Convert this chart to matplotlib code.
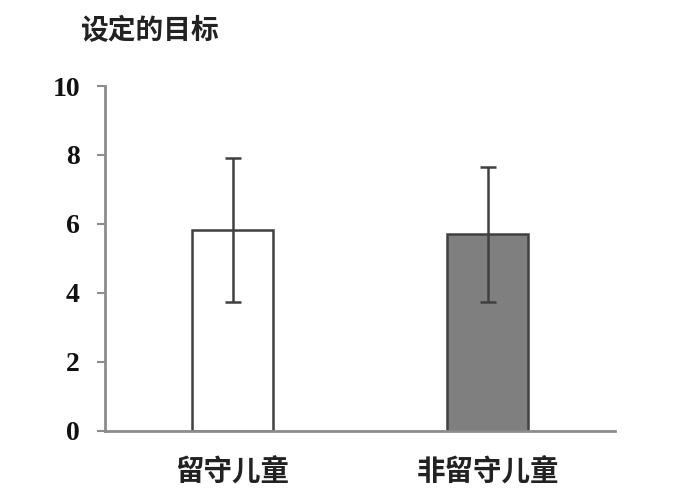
import matplotlib
matplotlib.use("Agg")
import matplotlib.pyplot as plt

categories = ["留守儿童", "非留守儿童"]
means = [5.82, 5.70]
errors = [2.10, 1.96]
fill_colors = ["#ffffff", "#7f7f7f"]
yticks = [0, 2, 4, 6, 8, 10]
title = "设定的目标"

cjk = ["Noto Sans CJK SC", "DejaVu Sans"]
num_font = "Liberation Serif"

fig = plt.figure(figsize=(7.0, 4.98), dpi=100)
ax = fig.add_axes([0.15, 0.1352, 0.7286, 0.6921])

x = list(range(len(categories)))
ax.bar(x, means, width=0.32, color=fill_colors, edgecolor="#404040", linewidth=1.8, zorder=2)
ax.errorbar(x, means, yerr=errors, fmt="none", ecolor="#404040", elinewidth=1.8,
            capsize=5.8, capthick=1.8, zorder=3)

ax.set_xlim(-0.5, 1.5)
ax.set_ylim(0, 10)
ax.set_yticks(yticks)
ax.set_yticklabels([str(v) for v in yticks], fontfamily=num_font, fontweight="bold",
                   fontsize=20, color="#111111")
ax.set_xticks(x)
ax.set_xticklabels(categories, fontfamily=cjk, fontweight="bold", fontsize=20.5, color="#222222")

for s in ["top", "right"]:
    ax.spines[s].set_visible(False)
for s in ["left", "bottom"]:
    ax.spines[s].set_color("#8c8c8c")
    ax.spines[s].set_linewidth(2)
ax.tick_params(axis="y", length=6, width=1.5, color="#8c8c8c", pad=12)
ax.tick_params(axis="x", length=0, pad=20)

fig.text(80 / 700, 1 - 31 / 498, title, fontfamily=cjk, fontweight="bold", fontsize=20,
         color="#222222", ha="left", va="center")

fig.savefig("out.png", dpi=100, facecolor="white")
